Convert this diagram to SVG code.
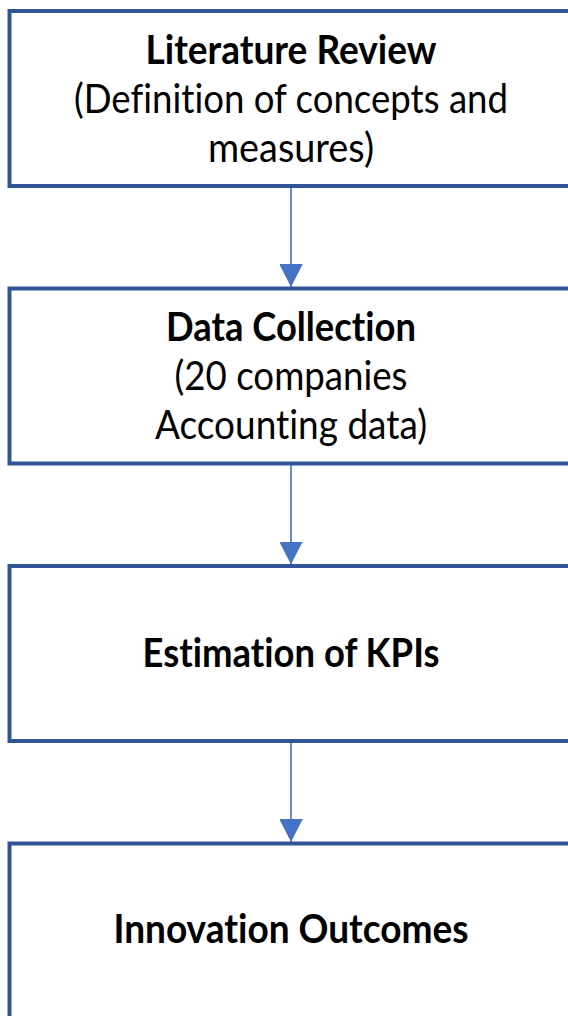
<svg xmlns="http://www.w3.org/2000/svg" width="568" height="1016" viewBox="0 0 568 1016">
  <style>
    .box { fill: #FFFFFF; stroke: #2F5597; stroke-width: 4; }
    .edge { stroke: #4472C4; stroke-width: 1.6; fill: none; }
    text { font-family: Lato, "Open Sans", "Liberation Sans", sans-serif; font-size: 40px; fill: #000000; text-anchor: middle; font-variant-ligatures: none; font-feature-settings: "liga" 0, "clig" 0; }
    .title { font-weight: bold; }
  </style>
  <defs>
    <marker id="arrow" markerUnits="userSpaceOnUse" markerWidth="24" markerHeight="23" refX="23" refY="11.75" orient="auto">
      <path d="M0,0 L23,11.75 L0,23.5 Z" fill="#4472C4"/>
    </marker>
  </defs>

  <rect width="568" height="1016" fill="#FFFFFF"/>

  <g id="connectors">
    <line class="edge" x1="291" y1="188" x2="291" y2="287" marker-end="url(#arrow)"/>
    <line class="edge" x1="291" y1="465" x2="291" y2="564.5" marker-end="url(#arrow)"/>
    <line class="edge" x1="291" y1="743" x2="291" y2="842" marker-end="url(#arrow)"/>
  </g>

  <g id="literature-review">
    <rect class="box" x="9.5" y="11" width="563" height="175"/>
    <text class="title" x="291" y="64" textLength="291" lengthAdjust="spacingAndGlyphs">Literature Review</text>
    <text x="291" y="113" textLength="434" lengthAdjust="spacingAndGlyphs">(Definition of concepts and</text>
    <text x="291" y="162" textLength="166" lengthAdjust="spacingAndGlyphs">measures)</text>
  </g>

  <g id="data-collection">
    <rect class="box" x="9.5" y="288.5" width="563" height="175"/>
    <text class="title" x="291" y="341" textLength="250" lengthAdjust="spacingAndGlyphs">Data Collection</text>
    <text x="291" y="390" textLength="233" lengthAdjust="spacingAndGlyphs">(20 companies</text>
    <text x="291" y="439" textLength="272" lengthAdjust="spacingAndGlyphs">Accounting data)</text>
  </g>

  <g id="estimation-of-kpis">
    <rect class="box" x="9.5" y="566" width="563" height="175"/>
    <text class="title" x="291" y="667" textLength="297" lengthAdjust="spacingAndGlyphs">Estimation of KPIs</text>
  </g>

  <g id="innovation-outcomes">
    <rect class="box" x="9.5" y="843.5" width="563" height="175"/>
    <text class="title" x="291" y="943" textLength="355" lengthAdjust="spacingAndGlyphs">Innovation Outcomes</text>
  </g>
</svg>
